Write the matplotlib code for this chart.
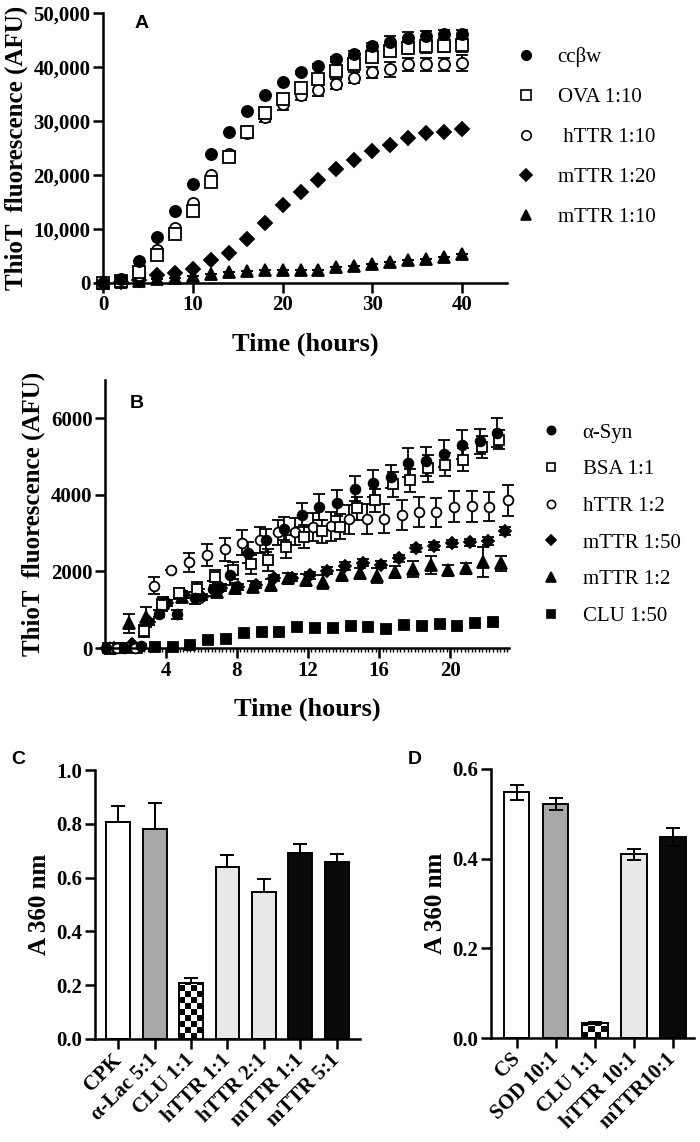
import numpy as np
import matplotlib
matplotlib.use("Agg")
import matplotlib.pyplot as plt
from matplotlib.ticker import MultipleLocator, FuncFormatter
from matplotlib.lines import Line2D

plt.rcParams['font.family'] = ['Liberation Serif', 'DejaVu Serif']
plt.rcParams['font.weight'] = 'bold'
plt.rcParams['axes.labelweight'] = 'bold'

# ---------------- panel A : ThioT, 2 h reads ----------------
a_time = [0, 2, 4, 6, 8, 10, 12, 14, 16, 18, 20, 22, 24, 26, 28, 30, 32, 34, 36, 38, 40]
a_ccbw = [0, 800, 4000, 8600, 13300, 18400, 23800, 28000, 31900, 34800, 37300,
          39000, 40200, 41400, 42500, 43800, 44700, 45300, 45800, 46100, 46200]
a_ccbw_err = [0, 0, 0, 0, 0, 0, 0, 0, 0, 0, 0, 300, 300, 400, 500, 700, 1000, 1200, 900, 700, 700]
a_ova = [0, 300, 2000, 5100, 9100, 13400, 18700, 23400, 28000, 31400, 34100,
         36100, 37800, 39300, 40500, 41900, 43000, 43600, 43800, 43800, 44000]
a_ova_err = [0, 0, 0, 0, 0, 0, 0, 0, 0, 0, 400, 500, 600, 700, 800, 900, 1000, 1200, 1200, 1000, 1200]
a_httr = [0, 200, 1500, 6200, 10200, 14800, 20000, 23900, 27800, 30800, 33100,
          34900, 35800, 36900, 38000, 39000, 39600, 40500, 40500, 40500, 40800]
a_httr_err = [0, 0, 0, 0, 0, 0, 0, 0, 600, 900, 1000, 950, 1200, 950, 1000, 1050, 1400, 1150, 1150, 1150, 1450]
a_mttr20 = [0, 100, 500, 1400, 1900, 2650, 4200, 5600, 8200, 11100, 14400,
            16900, 19000, 21100, 22800, 24400, 25500, 26800, 27700, 27900, 28600]
a_mttr10 = [0, 100, 400, 800, 900, 1300, 1700, 2000, 2150, 2350, 2450,
            2450, 2500, 2950, 3150, 3600, 3900, 4200, 4500, 4800, 5300]
a_labels = ['ccβw', 'OVA 1:10', ' hTTR 1:10', 'mTTR 1:20', 'mTTR 1:10']

# ---------------- panel B : ThioT, hourly reads ----------------
b_syn_t = [0.65, 1.65, 2.65, 3.65, 4.65, 5.65, 6.65, 7.65, 8.65, 9.65, 10.65, 11.65,
           12.65, 13.65, 14.65, 15.65, 16.65, 17.65, 18.65, 19.65, 20.65, 21.65, 22.65]
b_syn = [0, 0, 50, 900, 880, 1300, 1550, 1900, 2490, 2820, 3110, 3470,
         3680, 3790, 4160, 4300, 4470, 4840, 4880, 5080, 5310, 5400, 5620]
b_syn_err = [0, 0, 50, 100, 120, 150, 200, 250, 280, 300, 300, 320,
             340, 330, 330, 350, 300, 380, 375, 350, 375, 330, 375]
b_bsa_t = [0.75, 1.75, 2.78, 3.78, 4.77, 5.78, 6.78, 7.77, 8.78, 9.77, 10.76, 11.78,
           12.8, 13.8, 14.77, 15.76, 16.76, 17.73, 18.76, 19.73, 20.73, 21.76, 22.75]
b_bsa = [0, 0, 450, 1120, 1430, 1540, 1850, 2030, 2190, 2300, 2650, 2900,
         3050, 3170, 3650, 3860, 4280, 4380, 4690, 4790, 4920, 5250, 5440]
b_bsa_err = [0, 0, 150, 150, 150, 180, 200, 220, 250, 280, 300, 300,
             300, 320, 300, 300, 330, 300, 350, 300, 300, 300, 250]
b_httr_t = [1.3, 2.3, 3.35, 4.3, 5.33, 6.34, 7.34, 8.3, 9.3, 10.3, 11.3, 12.3,
            13.3, 14.3, 15.3, 16.3, 17.3, 18.25, 19.2, 20.2, 21.2, 22.2, 23.25]
b_httr = [0, 0, 1630, 2030, 2240, 2430, 2580, 2750, 2820, 3020, 3040, 3160,
          3180, 3360, 3360, 3380, 3470, 3560, 3540, 3690, 3700, 3690, 3860]
b_httr_err = [0, 0, 220, 0, 250, 280, 300, 330, 330, 330, 350, 370,
              380, 380, 390, 380, 390, 390, 390, 400, 400, 380, 400]
b_m50_t = [1.1, 2.1, 3.1, 4.1, 5.05, 6.05, 7.1, 8.1, 9.1, 10.1, 11.1, 12.1,
           13.1, 14.1, 15.1, 16.1, 17.1, 18.1, 19.1, 20.1, 21.1, 22.1, 23.1]
b_m50 = [0, 100, 690, 1170, 1380, 1340, 1580, 1600, 1640, 1820, 1840, 1900,
         2020, 2140, 2230, 2180, 2340, 2600, 2670, 2730, 2760, 2790, 3050]
b_m50_err = [0, 0, 80, 80, 80, 80, 80, 80, 80, 80, 90, 90,
             90, 100, 100, 100, 100, 100, 100, 100, 100, 100, 100]
b_m2_t = [0.9, 1.96, 2.9, 3.87, 4.9, 5.88, 6.87, 7.9, 8.93, 9.9, 10.9, 11.9,
          12.86, 13.9, 14.9, 15.9, 16.9, 17.9, 18.9, 19.9, 20.86, 21.85, 22.84]
b_m2 = [0, 640, 820, 1170, 1340, 1380, 1470, 1560, 1600, 1640, 1820, 1770,
        1730, 1900, 1950, 1890, 1990, 2060, 2170, 2030, 2080, 2240, 2210]
b_m2_err = [0, 260, 260, 150, 150, 150, 150, 150, 150, 150, 150, 150,
            180, 150, 150, 200, 150, 200, 230, 150, 150, 390, 200]
b_clu_t = [1.4, 2.4, 3.4, 4.4, 5.4, 6.4, 7.4, 8.4, 9.4, 10.4, 11.4,
           12.4, 13.4, 14.4, 15.4, 16.4, 17.4, 18.4, 19.4, 20.4, 21.4, 22.4]
b_clu = [0, 0, 30, 20, 90, 210, 240, 380, 410, 410, 560,
         530, 530, 570, 550, 500, 600, 570, 620, 570, 640, 690]
b_labels = ['α-Syn', 'BSA 1:1', 'hTTR 1:2', 'mTTR 1:50', 'mTTR 1:2', 'CLU 1:50']

# ---------------- panel C / D : A360 ----------------
c_names = ['CPK', 'α-Lac 5:1', 'CLU 1:1', 'hTTR 1:1', 'hTTR 2:1', 'mTTR 1:1', 'mTTR 5:1']
c_vals = [0.806, 0.781, 0.207, 0.638, 0.548, 0.693, 0.658]
c_err = [0.061, 0.095, 0.019, 0.046, 0.047, 0.032, 0.029]
c_colors = ['white', '#a8a8a8', 'checker', '#e8e8e8', '#e8e8e8', '#0a0a0a', '#0a0a0a']

d_names = ['CS', 'SOD 10:1', 'CLU 1:1', 'hTTR 10:1', 'mTTR10:1']
d_vals = [0.548, 0.522, 0.033, 0.410, 0.449]
d_err = [0.017, 0.013, 0.002, 0.012, 0.020]
d_colors = ['white', '#a8a8a8', 'checker', '#e8e8e8', '#0a0a0a']

W, H = 700, 1142
fig = plt.figure(figsize=(W / 100, H / 100), dpi=100)


def box(l, r, t, b):
    return [l / W, 1 - b / H, (r - l) / W, (b - t) / H]


def style(ax):
    for s in ['top', 'right']:
        ax.spines[s].set_visible(False)
    for s in ['left', 'bottom']:
        ax.spines[s].set_linewidth(1.8)
    ax.tick_params(width=1.8, length=7, labelsize=15, pad=2)


def unclip(cont):
    for art in cont.get_children():
        art.set_clip_on(False)


def series(ax, x, y, err, marker, fill, ms):
    if err is None:
        err = [0] * len(y)
    eb = ax.errorbar(x, y, yerr=err, fmt=marker, ms=ms, mfc=fill, mec='black', mew=1.3,
                     ecolor='black', elinewidth=1.3, capsize=4, capthick=1.3, linestyle='none')
    unclip(eb)
    return Line2D([], [], marker=marker, ls='none', ms=ms * 0.85, mfc=fill, mec='black', mew=1.2)


# ---- A
axA = fig.add_axes(box(103, 507, 13, 283))
style(axA)
hA = [
    series(axA, a_time, a_mttr10, None, '^', 'black', 9),
    series(axA, a_time, a_mttr20, None, 'D', 'black', 7.5),
    series(axA, a_time, a_httr, a_httr_err, 'o', 'white', 8),
    series(axA, a_time, a_ova, a_ova_err, 's', 'white', 8),
    series(axA, a_time, a_ccbw, a_ccbw_err, 'o', 'black', 8),
]
hA = hA[::-1]
axA.set_xlim(0, 45)
axA.set_ylim(0, 50000)
axA.set_xticks([0, 10, 20, 30, 40])
axA.set_yticks([0, 10000, 20000, 30000, 40000, 50000])
axA.yaxis.set_major_formatter(FuncFormatter(lambda v, p: f'{int(v):,}'))
axA.set_xlabel('Time (hours)', fontsize=19, labelpad=12)
axA.set_ylabel('ThioT  fluorescence (AFU)', fontsize=18, labelpad=4)
fig.legend(hA, a_labels, loc='upper left', bbox_to_anchor=(516 / W, 1 - 47 / H),
           frameon=False, prop={'family': 'Liberation Serif', 'weight': 'normal', 'size': 15},
           handlelength=1.0, handletextpad=1.0, labelspacing=0.98, borderpad=0, borderaxespad=0)

# ---- B
axB = fig.add_axes(box(105, 509, 380, 648))
style(axB)
hB = [
    series(axB, b_clu_t, b_clu, None, 's', 'black', 7),
    series(axB, b_m2_t, b_m2, b_m2_err, '^', 'black', 8),
    series(axB, b_m50_t, b_m50, b_m50_err, 'D', 'black', 6),
    series(axB, b_httr_t, b_httr, b_httr_err, 'o', 'white', 7),
    series(axB, b_bsa_t, b_bsa, b_bsa_err, 's', 'white', 7),
    series(axB, b_syn_t, b_syn, b_syn_err, 'o', 'black', 7),
]
hB = hB[::-1]
axB.set_xlim(0.6, 23.3)
axB.set_ylim(0, 7000)
axB.set_xticks([4, 8, 12, 16, 20])
axB.set_yticks([0, 2000, 4000, 6000])
axB.xaxis.set_minor_locator(MultipleLocator(0.2))
axB.tick_params(axis='x', which='minor', length=3, width=1)
axB.set_xlabel('Time (hours)', fontsize=19, labelpad=12)
axB.set_ylabel('ThioT  fluorescence (AFU)', fontsize=18, labelpad=4)
fig.legend(hB, b_labels, loc='upper left', bbox_to_anchor=(541 / W, 1 - 423 / H),
           frameon=False, prop={'family': 'Liberation Serif', 'weight': 'normal', 'size': 15},
           handlelength=1.0, handletextpad=1.0, labelspacing=0.82, borderpad=0, borderaxespad=0)


def checker(ax, bar, nx=4, cell_px=6.0):
    x0, y0 = bar.get_x(), bar.get_y()
    w, h = bar.get_width(), bar.get_height()
    p0 = ax.transData.transform((x0, y0))
    p1 = ax.transData.transform((x0 + w, y0 + h))
    hpx = p1[1] - p0[1]
    cell_h = h / hpx * cell_px
    ny = max(1, int(np.ceil(hpx / cell_px)))
    board = np.indices((ny, nx)).sum(axis=0) % 2
    im = ax.imshow(board, cmap='gray', extent=(x0, x0 + w, y0, y0 + ny * cell_h),
                   origin='lower', aspect='auto', interpolation='nearest', zorder=1.5)
    im.set_clip_path(bar)
    bar.set_facecolor('none')
    bar.set_zorder(2)


def bars(ax, names, vals, err, colors, xlim, ylim, up_only):
    style(ax)
    x = np.arange(len(vals))
    fc = ['white' if c == 'checker' else c for c in colors]
    bs = ax.bar(x, vals, width=0.65, color=fc, edgecolor='black', linewidth=1.4, zorder=1)
    ax.set_xlim(*xlim)
    ax.set_ylim(*ylim)
    for b, c in zip(bs, colors):
        if c == 'checker':
            checker(ax, b)
    ax.set_xlim(*xlim)
    ax.set_ylim(*ylim)
    yerr = [[0] * len(err), err] if up_only else err
    ax.errorbar(x, vals, yerr=yerr, fmt='none', ecolor='black', elinewidth=1.4,
                capsize=5, capthick=1.4, zorder=3)
    ax.set_xticks(x)
    ax.set_xticklabels(names, rotation=45, ha='right', va='center', rotation_mode='anchor',
                       fontsize=15)
    ax.tick_params(axis='x', pad=6)
    ax.set_ylabel('A 360 nm', fontsize=18, labelpad=4)


axC = fig.add_axes(box(95, 360, 770, 1039))
bars(axC, c_names, c_vals, c_err, c_colors, (-0.64, 6.64), (0, 1.0), True)
axC.set_yticks([0.0, 0.2, 0.4, 0.6, 0.8, 1.0])
axC.yaxis.set_major_formatter(FuncFormatter(lambda v, p: f'{v:.1f}'))

axD = fig.add_axes(box(491, 694, 769, 1038))
bars(axD, d_names, d_vals, d_err, d_colors, (-0.66, 4.54), (0, 0.6), False)
axD.set_yticks([0.0, 0.2, 0.4, 0.6])
axD.yaxis.set_major_formatter(FuncFormatter(lambda v, p: f'{v:.1f}'))

# panel letters
for lab, px, py in [('A', 142, 23), ('B', 137, 403), ('C', 18, 760), ('D', 415, 760)]:
    fig.text(px / W, 1 - py / H, lab, family='Liberation Sans', weight='bold', fontsize=14,
             ha='center', va='center')

fig.savefig('out.png', dpi=100)
